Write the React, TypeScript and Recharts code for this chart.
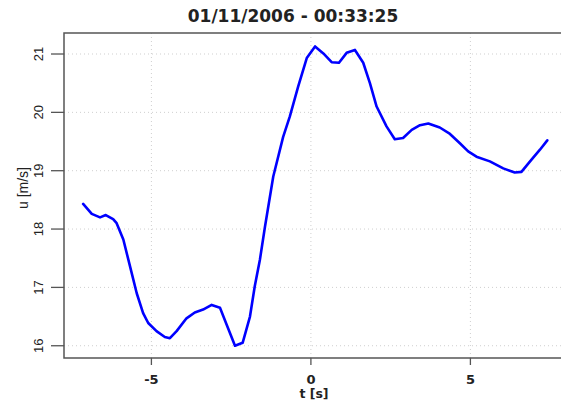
import React from "react";
import { LineChart, Line, XAxis, YAxis, CartesianGrid, ReferenceArea } from "recharts";

const timeSeconds: number[] = [
  -7.14, -6.87, -6.61, -6.43, -6.2, -6.09, -5.88, -5.67, -5.46, -5.26,
  -5.1, -4.84, -4.58, -4.42, -4.21, -3.9, -3.64, -3.38, -3.11, -2.85,
  -2.64, -2.38, -2.14, -1.91, -1.76, -1.6, -1.44, -1.18, -0.87, -0.66,
  -0.4, -0.13, 0.13, 0.39, 0.65, 0.88, 1.12, 1.38, 1.64, 1.85,
  2.06, 2.37, 2.63, 2.89, 3.16, 3.42, 3.68, 4.04, 4.36, 4.67,
  4.93, 5.19, 5.61, 6.03, 6.39, 6.6, 6.87, 7.18, 7.41,
];

const speedValues: number[] = [
  18.43, 18.26, 18.2, 18.24, 18.17, 18.1, 17.82, 17.36, 16.9, 16.56,
  16.39, 16.25, 16.15, 16.13, 16.25, 16.47, 16.57, 16.62, 16.7, 16.65,
  16.36, 16.0, 16.05, 16.5, 17.02, 17.47, 18.04, 18.9, 19.58, 19.93,
  20.44, 20.93, 21.13, 21.01, 20.86, 20.85, 21.02, 21.07, 20.85, 20.5,
  20.1, 19.76, 19.54, 19.56, 19.7, 19.78, 19.81, 19.74, 19.63, 19.47,
  19.33, 19.24, 19.16, 19.04, 18.97, 18.98, 19.16, 19.36, 19.52,
];

const xTicks: number[] = [-5, 0, 5];
const yTicks: number[] = [16, 17, 18, 19, 20, 21];

const chartTitle = "01/11/2006 - 00:33:25";
const xLabel = "t [s]";
const yLabel = "u [m/s]";

const data = timeSeconds.map((t, i) => ({ t, u: speedValues[i] }));

const X_DOMAIN: [number, number] = [-7.74, 7.84];
const Y_DOMAIN: [number, number] = [15.79, 21.36];

const YTick = (props: any) => {
  const { y, payload } = props;
  return (
    <text
      x={43.5}
      y={y}
      transform={`rotate(-90, 43.5, ${y})`}
      textAnchor="middle"
      fontFamily="Liberation Sans, Arial, sans-serif"
      fontSize={13}
      fill="#222"
    >
      {payload.value}
    </text>
  );
};

const XTick = (props: any) => {
  const { x, payload } = props;
  return (
    <text
      x={x}
      y={384}
      textAnchor="middle"
      fontFamily="DejaVu Sans, sans-serif"
      fontWeight="bold"
      fontSize={13}
      fill="#222"
    >
      {payload.value}
    </text>
  );
};

export default function App() {
  return (
    <div style={{ position: "absolute", left: 0, top: 0, width: 561, height: 402, background: "#fff" }}>
      <LineChart
        width={561}
        height={402}
        data={data}
        margin={{ top: 33, right: 0, bottom: 0, left: 0 }}
      >
        <CartesianGrid
          stroke="#cfcfcf"
          strokeDasharray="1 3"
          horizontalValues={yTicks}
          verticalValues={xTicks}
        />
        <XAxis
          dataKey="t"
          type="number"
          domain={X_DOMAIN}
          ticks={xTicks}
          allowDataOverflow
          height={44}
          axisLine={false}
          tickSize={7}
          tickLine={{ stroke: "#555", strokeWidth: 1.3 }}
          tick={<XTick />}
          interval={0}
        />
        <YAxis
          dataKey="u"
          type="number"
          domain={Y_DOMAIN}
          ticks={yTicks}
          allowDataOverflow
          width={64}
          axisLine={false}
          tickSize={13}
          tickLine={{ stroke: "#555", strokeWidth: 1.3 }}
          tick={<YTick />}
          interval={0}
        />
        <ReferenceArea
          x1={X_DOMAIN[0]}
          x2={8.5}
          y1={Y_DOMAIN[0]}
          y2={Y_DOMAIN[1]}
          ifOverflow="visible"
          fill="none"
          stroke="#555"
          strokeWidth={1.5}
        />
        <Line
          type="linear"
          dataKey="u"
          stroke="#0000ff"
          strokeWidth={2.6}
          strokeLinejoin="round"
          strokeLinecap="round"
          dot={false}
          activeDot={false}
          isAnimationActive={false}
        />
      </LineChart>
      <svg
        width={561}
        height={402}
        style={{ position: "absolute", left: 0, top: 0, pointerEvents: "none" }}
      >
        <text
          x={293}
          y={22}
          textAnchor="middle"
          fontFamily="DejaVu Sans, sans-serif"
          fontWeight="bold"
          fontSize={17}
          fill="#222"
        >
          {chartTitle}
        </text>
        <text
          x={314}
          y={398}
          textAnchor="middle"
          fontFamily="DejaVu Sans, sans-serif"
          fontWeight="bold"
          fontSize={12.5}
          fill="#222"
        >
          {xLabel}
        </text>
        <text
          x={28}
          y={188}
          transform="rotate(-90, 28, 188)"
          textAnchor="middle"
          fontFamily="Liberation Sans, Arial, sans-serif"
          fontSize={14}
          fill="#222"
        >
          {yLabel}
        </text>
      </svg>
    </div>
  );
}
